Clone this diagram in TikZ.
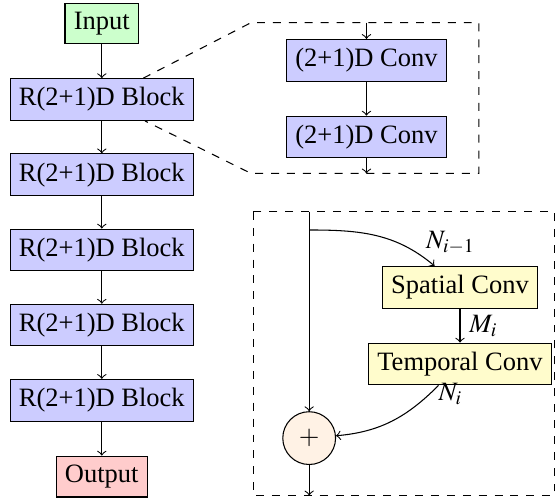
\documentclass[tikz,border=0pt]{standalone}
\usepackage{mathptmx}
\usepackage{fontspec}
\setmainfont{Liberation Serif}
\usetikzlibrary{positioning}

\begin{document}
\begin{tikzpicture}[node distance=0.43cm,
        blockbox/.style={rectangle, draw, fill=blue!20},
        convbox/.style={rectangle, draw, fill=yellow!20}]
    \useasboundingbox (0,0) rectangle (7.36,-6.62);

    % main network column
    \node[rectangle, draw, fill=green!20] (input) at (1.35,-0.31) {Input};
    \node[blockbox, below=0.45cm of input] (blk1) {R(2+1)D Block};
    \node[blockbox, below=of blk1] (blk2) {R(2+1)D Block};
    \node[blockbox, below=of blk2] (blk3) {R(2+1)D Block};
    \node[blockbox, below=of blk3] (blk4) {R(2+1)D Block};
    \node[blockbox, below=of blk4] (blk5) {R(2+1)D Block};
    \node[rectangle, draw, fill=red!20, below=0.45cm of blk5] (output) {Output};
    \draw[->] (input) -- (blk1);
    \draw[->] (blk1) -- (blk2);
    \draw[->] (blk2) -- (blk3);
    \draw[->] (blk3) -- (blk4);
    \draw[->] (blk4) -- (blk5);
    \draw[->] (blk5) -- (output);

    % zoom into one block
    \coordinate (ztl) at (3.33,-0.30);
    \coordinate (ztr) at (6.35,-0.30);
    \coordinate (zbr) at (6.35,-2.30);
    \coordinate (zbl) at (3.33,-2.30);
    \draw[dashed] (blk1) -- (ztl) -- (ztr) -- (zbr) -- (zbl) -- (blk1);
    \node[blockbox] (conv1) at (4.86,-0.80) {(2+1)D Conv};
    \node[blockbox, below=0.45cm of conv1] (conv2) {(2+1)D Conv};
    \coordinate (zin) at (4.86,-0.30);
    \coordinate (zout) at (4.86,-2.30);
    \draw[->] (zin) -- (conv1);
    \draw[->] (conv1) -- (conv2);
    \draw[->] (conv2) -- (zout);

    % residual unit
    \draw[dashed] (3.36,-2.81) rectangle (7.35,-6.57);
    \node[convbox] (spatial) at (6.10,-3.81) {Spatial Conv};
    \node[convbox, below=0.45cm of spatial] (temporal) {Temporal Conv};
    \node[circle, draw, fill=orange!10, minimum size=0.70cm] (plus) at (4.10,-5.81) {$+$};
    \coordinate (rin) at (4.10,-2.81);
    \coordinate (split) at (4.10,-3.05);
    \coordinate (rout) at (4.10,-6.57);
    \draw[->] (rin) -- (plus);
    \draw[->] (split) to[out=0, in=140] node[pos=0.9, above right, inner sep=1pt] {$N_{i-1}$} (spatial);
    \draw[->] (spatial) -- node[right] {$M_i$} (temporal);
    \draw[->] (temporal) to[out=-135, in=5] node[pos=0.1, right] {$N_i$} (plus);
    \draw[->] (plus) -- (rout);
\end{tikzpicture}
\end{document}
